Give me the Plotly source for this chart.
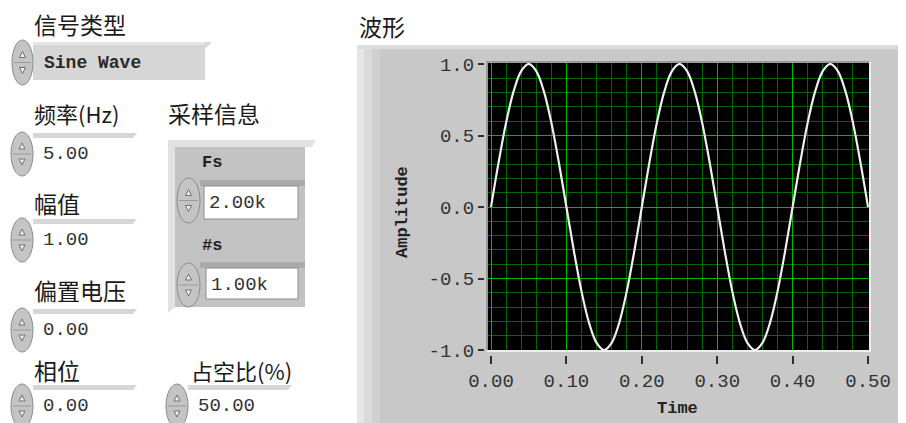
import plotly.graph_objects as go

# ---------------- data ----------------
time_s = [0.00, 0.01, 0.02, 0.03, 0.04, 0.05, 0.06, 0.07, 0.08, 0.09,
          0.10, 0.11, 0.12, 0.13, 0.14, 0.15, 0.16, 0.17, 0.18, 0.19,
          0.20, 0.21, 0.22, 0.23, 0.24, 0.25, 0.26, 0.27, 0.28, 0.29,
          0.30, 0.31, 0.32, 0.33, 0.34, 0.35, 0.36, 0.37, 0.38, 0.39,
          0.40, 0.41, 0.42, 0.43, 0.44, 0.45, 0.46, 0.47, 0.48, 0.49,
          0.50]
amplitude = [0.00, 0.31, 0.59, 0.81, 0.95, 1.00, 0.95, 0.81, 0.59, 0.31,
             0.00, -0.31, -0.59, -0.81, -0.95, -1.00, -0.95, -0.81, -0.59, -0.31,
             0.00, 0.31, 0.59, 0.81, 0.95, 1.00, 0.95, 0.81, 0.59, 0.31,
             0.00, -0.31, -0.59, -0.81, -0.95, -1.00, -0.95, -0.81, -0.59, -0.31,
             0.00, 0.31, 0.59, 0.81, 0.95, 1.00, 0.95, 0.81, 0.59, 0.31,
             0.00]
x_tick_vals = [0.0, 0.1, 0.2, 0.3, 0.4, 0.5]
x_tick_labels = ["0.00", "0.10", "0.20", "0.30", "0.40", "0.50"]
y_tick_vals = [-1.0, -0.5, 0.0, 0.5, 1.0]
y_tick_labels = ["-1.0", "-0.5", "0.0", "0.5", "1.0"]

# front-panel control labels and values
signal_type_label = "信号类型"
signal_type_value = "Sine Wave"
freq_label = "频率(Hz)"
freq_value = "5.00"
amp_label = "幅值"
amp_value = "1.00"
offset_label = "偏置电压"
offset_value = "0.00"
phase_label = "相位"
phase_value = "0.00"
duty_label = "占空比(%)"
duty_value = "50.00"
sampling_label = "采样信息"
fs_label = "Fs"
fs_value = "2.00k"
ns_label = "#s"
ns_value = "1.00k"
graph_label = "波形"
x_title = "Time"
y_title = "Amplitude"

# ---------------- helpers (window pixel -> paper) ----------------
# the page body keeps an 8px margin, so the figure starts 8px in from the window edge
OFF = 8
WIN_W, WIN_H = 906, 423
W, H = WIN_W - OFF, WIN_H - OFF


def px(x):
    return (x - OFF) / W


def py(y):
    return 1 - (y - OFF) / H


shapes = []
annotations = []


def rect(x0, y0, x1, y1, fill, line=None, lw=0):
    shapes.append(dict(type="rect", xref="paper", yref="paper",
                       x0=px(x0), x1=px(x1), y0=py(y1), y1=py(y0),
                       fillcolor=fill, layer="below",
                       line=dict(color=line or fill, width=lw)))


def path(points, fill, line=None, lw=0, layer="below"):
    d = "M " + " L ".join(f"{px(a):.5f},{py(b):.5f}" for a, b in points) + " Z"
    shapes.append(dict(type="path", xref="paper", yref="paper", path=d,
                       fillcolor=fill, layer=layer,
                       line=dict(color=line or fill, width=lw)))


def text(x, y, s, size=18, family="Liberation Mono", color="#222222",
         anchor="left", angle=0, bold=False):
    annotations.append(dict(xref="paper", yref="paper", x=px(x), y=py(y),
                            text=f"<b>{s}</b>" if bold else s,
                            showarrow=False, xanchor=anchor, yanchor="middle",
                            textangle=angle,
                            font=dict(family=family, size=size, color=color)))


def spinner(x0, y0, x1, y1):
    cx = (x0 + x1) / 2
    cy = (y0 + y1) / 2
    shapes.append(dict(type="circle", xref="paper", yref="paper",
                       x0=px(x0), x1=px(x1), y0=py(y1), y1=py(y0),
                       fillcolor="#c4c4c4", layer="below",
                       line=dict(color="#8a8a8a", width=1)))
    shapes.append(dict(type="line", xref="paper", yref="paper",
                       x0=px(x0 + 2), x1=px(x1 - 2), y0=py(cy), y1=py(cy),
                       layer="below", line=dict(color="#9a9a9a", width=1)))
    path([(cx - 3, cy - 5), (cx + 3, cy - 5), (cx, cy - 11)], "#f0f0f0", "#707070", 1)
    path([(cx - 3, cy + 5), (cx + 3, cy + 5), (cx, cy + 11)], "#f0f0f0", "#707070", 1)


def numeric(x_arrow, y_top, width, value):
    # spinner + grey bevel strip + value text
    spinner(x_arrow, y_top, x_arrow + 22, y_top + 44)
    x0 = x_arrow + 22
    path([(x0, y_top + 1), (x0 + width, y_top + 1), (x0 + width - 4, y_top + 6),
          (x0, y_top + 6)], "#d6d6d6")
    text(x0 + 8, y_top + 22, value, size=19, color="#333333")


# ---------------- graph panel ----------------
rect(357, 45, 906, 423, "#c8c8c8")
rect(357, 45, 364, 423, "#e6e6e6")
rect(364, 45, 372, 423, "#dadada")
rect(372, 45, 380, 423, "#d0d0d0")
rect(357, 45, 906, 49, "#dcdcdc")
rect(898, 45, 906, 423, "#b8b8b8")
rect(487, 62, 871, 352, "#eeeeee")
rect(486, 61, 869, 350, "#9a9a9a")
rect(488, 63, 869, 350, "#000000")

# ---------------- ring control: signal type ----------------
path([(33, 42), (212, 42), (205, 49), (205, 80), (33, 80)], "#d6d6d6")
rect(33, 42, 205, 45, "#e4e4e4")
spinner(12, 40, 33, 85)
text(42, 63, signal_type_value, size=18, color="#2a2a2a", bold=True)

# ---------------- left column numerics ----------------
numeric(11, 132, 104, freq_value)
numeric(11, 218, 104, amp_value)
numeric(11, 308, 104, offset_value)
numeric(11, 384, 104, phase_value)
numeric(166, 384, 104, duty_value)

# ---------------- sampling cluster ----------------
path([(168, 140), (316, 140), (312, 147), (175, 147), (175, 307), (168, 313)], "#e2e2e2")
rect(175, 147, 305, 307, "#c2c2c2")
# Fs control
rect(200, 180, 305, 186, "#aaaaaa")
rect(204, 186, 298, 219, "#ffffff", "#8c8c8c", 1)
spinner(177, 178, 200, 223)
# #s control
rect(200, 262, 305, 268, "#aaaaaa")
rect(206, 268, 298, 299, "#ffffff", "#8c8c8c", 1)
spinner(177, 263, 200, 307)

text(200, 162, fs_label, size=17, color="#222222", bold=True)
text(200, 245, ns_label, size=17, color="#222222", bold=True)
text(207, 203, fs_value, size=19, color="#333333")
text(209, 285, ns_value, size=19, color="#333333")

# ---------------- CJK labels ----------------
cjk = "Noto Sans CJK SC"
text(32, 24, signal_type_label, size=23, family=cjk, color="#1a1a1a")
text(32, 113, freq_label, size=22, family=cjk, color="#1a1a1a")
text(166, 113, sampling_label, size=23, family=cjk, color="#1a1a1a")
text(32, 203, amp_label, size=23, family=cjk, color="#1a1a1a")
text(32, 290, offset_label, size=23, family=cjk, color="#1a1a1a")
text(32, 370, phase_label, size=23, family=cjk, color="#1a1a1a")
text(189, 370, duty_label, size=22, family=cjk, color="#1a1a1a")
text(357, 26, graph_label, size=23, family=cjk, color="#1a1a1a")

# axis titles
text(677, 408, x_title, size=17, color="#222222", anchor="center", bold=True)
text(402, 212, y_title, size=17, color="#222222", anchor="center", angle=-90, bold=True)

# ---------------- figure ----------------
fig = go.Figure()
fig.add_trace(go.Scatter(x=time_s, y=amplitude, mode="lines",
                         line=dict(color="#f0f0f0", width=2.2, shape="spline"),
                         hoverinfo="skip"))

tick_font = dict(family="Liberation Mono", size=19, color="#333333")
fig.update_layout(
    width=W, height=H,
    margin=dict(l=0, r=0, t=0, b=0, autoexpand=False),
    paper_bgcolor="#ffffff",
    plot_bgcolor="rgba(0,0,0,0)",
    showlegend=False,
    shapes=shapes,
    annotations=annotations,
    xaxis=dict(
        domain=[px(488), px(869)],
        range=[-0.004, 0.5013],
        anchor="free", position=py(355),
        tickmode="array", tickvals=x_tick_vals, ticktext=x_tick_labels,
        ticks="outside", ticklen=8, tickwidth=2, tickcolor="#303030",
        tickfont=tick_font,
        showgrid=True, gridcolor="#00b800", gridwidth=1,
        minor=dict(dtick=0.02, tick0=0, showgrid=True, gridcolor="#006800", gridwidth=1),
        zeroline=False, showline=False, fixedrange=True,
    ),
    yaxis=dict(
        domain=[py(350), py(63)],
        range=[-1.0, 1.007],
        anchor="free", position=px(484),
        tickmode="array", tickvals=y_tick_vals, ticktext=y_tick_labels,
        ticks="outside", ticklen=6, tickwidth=2, tickcolor="#303030",
        tickfont=tick_font,
        showgrid=True, gridcolor="#00b800", gridwidth=1,
        minor=dict(dtick=0.1, tick0=0, showgrid=True, gridcolor="#006800", gridwidth=1),
        zeroline=False, showline=False, fixedrange=True,
    ),
)

fig.write_html("out.html")
